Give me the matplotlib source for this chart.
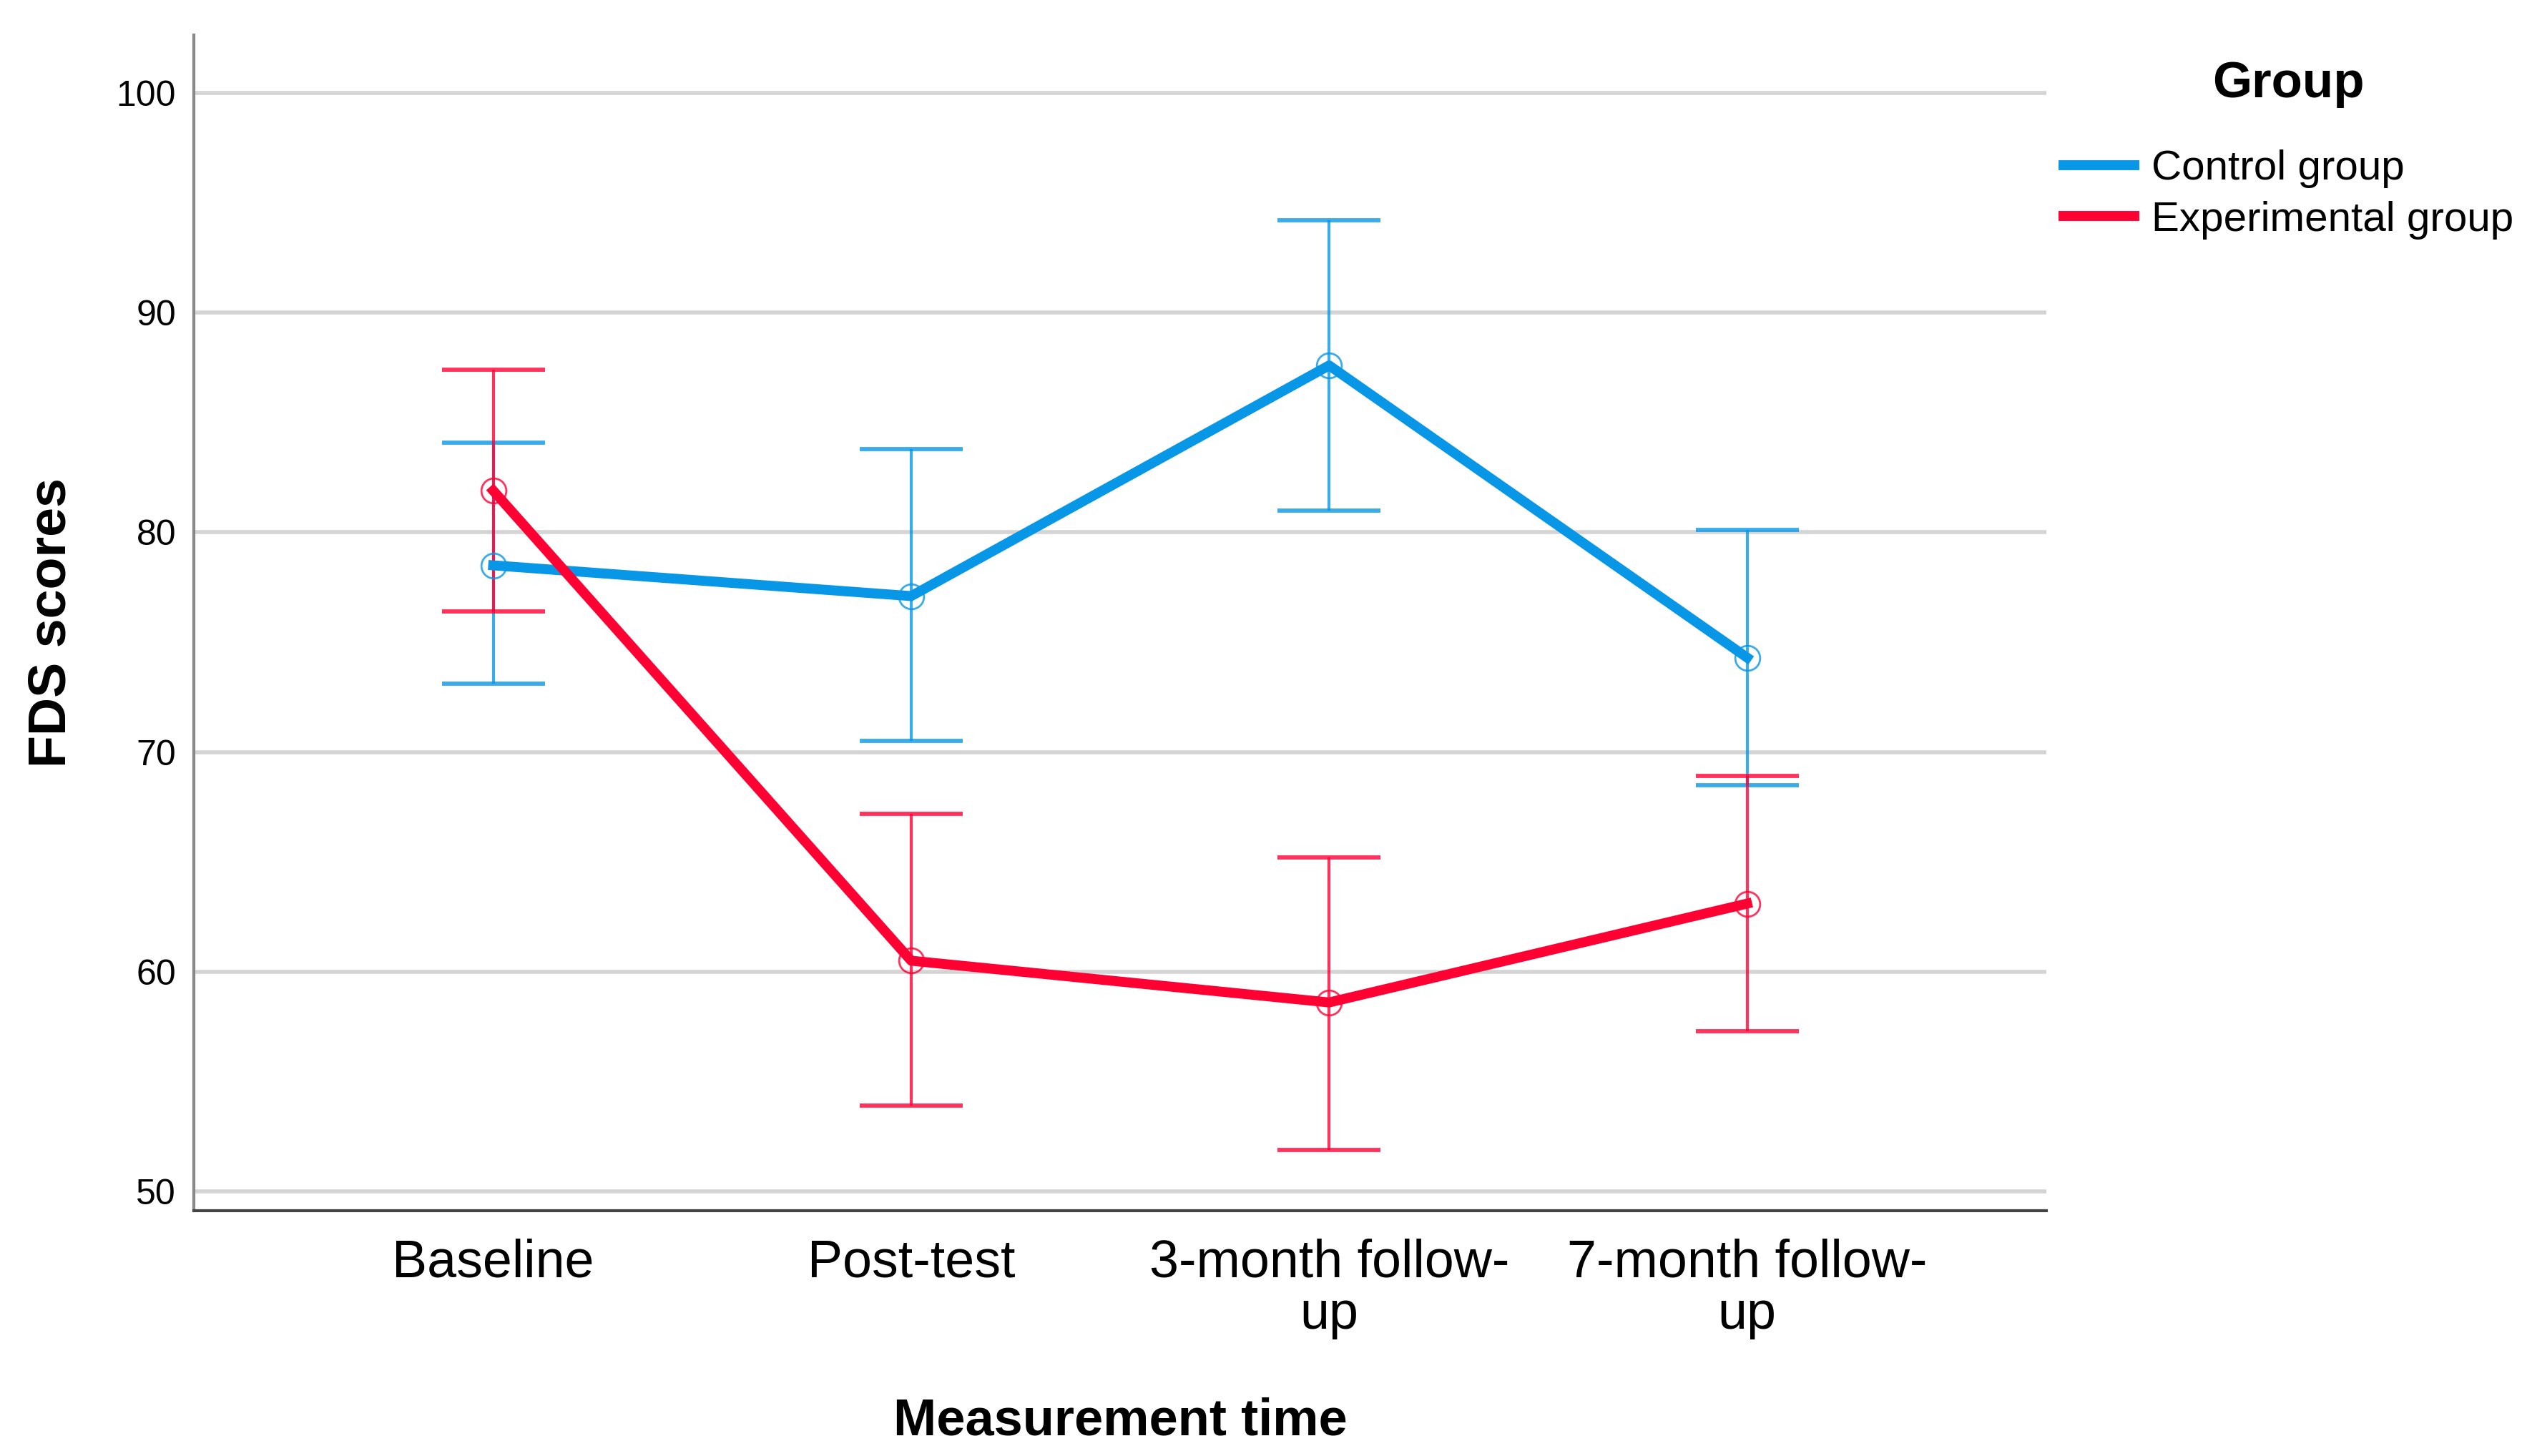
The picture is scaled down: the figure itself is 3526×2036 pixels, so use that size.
import matplotlib
matplotlib.use("Agg")
import matplotlib.pyplot as plt
from matplotlib.lines import Line2D

plt.rcParams['font.family'] = ['Liberation Sans', 'DejaVu Sans']

# data
times = ["Baseline", "Post-test", "3-month follow-\nup", "7-month follow-\nup"]
groups = ["Control group", "Experimental group"]
control_mean = [78.5, 77.1, 87.6, 74.3]
control_low = [73.1, 70.5, 81.0, 68.5]
control_high = [84.1, 83.8, 94.2, 80.1]
exp_mean = [81.9, 60.5, 58.6, 63.1]
exp_low = [76.4, 53.9, 51.9, 57.3]
exp_high = [87.4, 67.2, 65.2, 68.9]

blue = "#0896e6"
red = "#ff0033"

fig = plt.figure(figsize=(35.26, 20.36), dpi=100)
ax = fig.add_axes([0.0769, 0.1685, 0.7345, 0.8074])

x = list(range(len(times)))

# grid first
for v in range(50, 101, 10):
    ax.axhline(v, color="#d4d4d4", lw=4, zorder=0)

series = [
    (control_mean, control_low, control_high, blue),
    (exp_mean, exp_low, exp_high, red),
]
for mean, low, high, col in series:
    yerr = [[m - l for m, l in zip(mean, low)], [h - m for m, h in zip(mean, high)]]
    ax.errorbar(x, mean, yerr=yerr, fmt="none", ecolor=col, elinewidth=3,
                capsize=52, capthick=4.2, alpha=0.8, zorder=2)

for mean, low, high, col in series:
    ax.plot(x, mean, color=col, lw=10, zorder=3)
    ax.plot(x, mean, linestyle="none", marker="o", markersize=25,
            markerfacecolor="none", markeredgecolor=col, markeredgewidth=2,
            alpha=0.8, zorder=4)

ax.set_xlim(-0.716, 3.716)
ax.set_ylim(49.12, 102.64)
ax.set_xticks(x)
ax.set_xticklabels(times, fontsize=53, linespacing=1.05)
ax.set_yticks(range(50, 101, 10))
ax.tick_params(axis="y", length=0, pad=18, labelsize=36)
ax.tick_params(axis="x", length=0, pad=28)

for s in ["top", "right"]:
    ax.spines[s].set_visible(False)
ax.spines["left"].set_color("#888888")
ax.spines["left"].set_linewidth(3)
ax.spines["bottom"].set_color("#444444")
ax.spines["bottom"].set_linewidth(3)

ax.set_ylabel("FDS scores", fontsize=53, fontweight="bold", labelpad=40)
ax.set_xlabel("Measurement time", fontsize=52, fontweight="bold", labelpad=58)

handles = [Line2D([0], [0], color=blue, lw=10), Line2D([0], [0], color=red, lw=10)]
leg = fig.legend(handles, groups, loc="upper left", bbox_to_anchor=(2885 / 3526, 1 - 85 / 2036),
                 frameon=False, fontsize=42, title="Group", borderpad=0, borderaxespad=0,
                 handlelength=1.7, handletextpad=0.4, labelspacing=0.3,
                 title_fontproperties={"size": 51, "weight": "bold"})
leg._legend_box.sep = 42

fig.savefig("out.png", dpi=100)
